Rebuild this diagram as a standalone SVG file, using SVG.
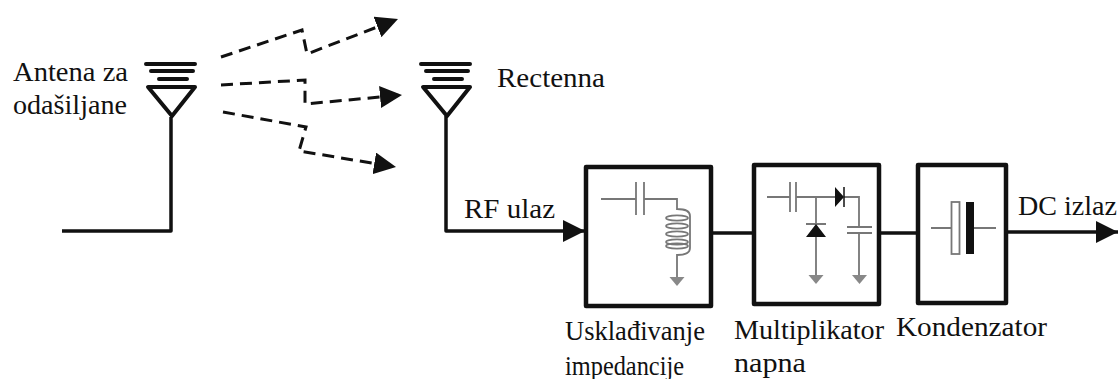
<svg xmlns="http://www.w3.org/2000/svg" width="1120" height="379" viewBox="0 0 1120 379">
<style>
text{font-family:"Liberation Serif","Times New Roman",serif;font-size:27px;fill:#111}
.w{fill:none;stroke:#111;stroke-width:3.5;stroke-linejoin:round}
.box{fill:#fff;stroke:#111;stroke-width:4.5;stroke-linejoin:round}
.ant{fill:none;stroke:#111;stroke-width:4;stroke-linecap:round;stroke-linejoin:round}
.d{fill:none;stroke:#111;stroke-width:3;stroke-dasharray:12 7}
.g{fill:none;stroke:#777;stroke-width:1.8}
.gf{fill:#888;stroke:none}
.k{fill:#111;stroke:none}
</style>
<defs>
<marker id="a" markerUnits="userSpaceOnUse" markerWidth="26" markerHeight="22" refX="22" refY="11" orient="auto"><path d="M0 0L22 11L0 22Z" fill="#111"/></marker>
<g id="ant"><path class="ant" d="M0 0H49M5 7H47M13 15H41"/><path class="ant" d="M2 23H49L26 52Z"/></g>
<path id="gnd" class="gf" d="M-7.5 0H7.5L0 9Z"/>
</defs>
<g id="connectors">
<path class="w" d="M62 231H171V117"/>
<path class="w" d="M446 116V231H585" marker-end="url(#a)"/>
<path class="w" d="M711 233H754"/>
<path class="w" d="M879 233H918"/>
<path class="w" d="M1006 232H1118" marker-end="url(#a)"/>
<path class="d" d="M221 57L302 30L307 54L398 19" marker-end="url(#a)"/>
<path class="d" d="M221 85L305 80L305 104L402 95" marker-end="url(#a)"/>
<path class="d" d="M223 112L306 127L299 151L396 167" marker-end="url(#a)"/>
</g>
<g id="tx-antenna">
<use href="#ant" x="146" y="64"/>
<text x="13" y="81" textLength="115" lengthAdjust="spacingAndGlyphs">Antena za</text>
<text x="13" y="114" textLength="114" lengthAdjust="spacingAndGlyphs">odašiljane</text>
</g>
<g id="rectenna">
<use href="#ant" x="421" y="64"/>
<text x="497" y="87" textLength="108" lengthAdjust="spacingAndGlyphs">Rectenna</text>
</g>
<g id="rf-label"><text x="464" y="218" textLength="91" lengthAdjust="spacingAndGlyphs">RF ulaz</text></g>
<g id="matching">
<rect class="box" x="586" y="167" width="125" height="139"/>
<path class="g" d="M601 199H636M636 182V215M644 182V215M644 199H677V209Q690 209 690 216V248Q690 255 677 255V277"/>
<g class="g"><ellipse cx="677" cy="218" rx="11" ry="2.6"/><ellipse cx="677" cy="226" rx="11" ry="2.6"/><ellipse cx="677" cy="234" rx="11" ry="2.6"/><ellipse cx="677" cy="242" rx="11" ry="2.6"/><ellipse cx="677" cy="246" rx="11" ry="2.6"/></g>
<use href="#gnd" x="677" y="277"/>
<text x="565" y="340" textLength="140" lengthAdjust="spacingAndGlyphs">Usklađivanje</text>
<text x="565" y="375" textLength="119" lengthAdjust="spacingAndGlyphs">impedancije</text>
</g>
<g id="multiplier">
<rect class="box" x="754" y="165" width="125" height="139"/>
<path class="g" d="M767 197H790M790 182V212M796 182V212M796 197H835M844 197H859V227M847 227H872M847 233H872M859 233V275M816 197V224M806 224H826M816 237V275"/>
<path class="k" d="M835 187L844 197L835 207ZM816 224L826 237H806Z"/>
<path d="M844 187V207" stroke="#111" stroke-width="1.5"/>
<use href="#gnd" x="816" y="275"/>
<use href="#gnd" x="859.500" y="275"/>
<text x="734" y="339" textLength="150" lengthAdjust="spacingAndGlyphs">Multiplikator</text>
<text x="734" y="372" textLength="72" lengthAdjust="spacingAndGlyphs">napna</text>
</g>
<g id="capacitor">
<rect class="box" x="918" y="165" width="88" height="138"/>
<path class="g" d="M931 228H951M974 228H996"/>
<rect x="951.500" y="202" width="8" height="52" fill="#fff" stroke="#777" stroke-width="1.800"/>
<rect class="k" x="966" y="202" width="8" height="52"/>
<text x="896" y="336" textLength="151" lengthAdjust="spacingAndGlyphs">Kondenzator</text>
</g>
<g id="dc-label"><text x="1018" y="215" textLength="99" lengthAdjust="spacingAndGlyphs">DC izlaz</text></g>
</svg>
